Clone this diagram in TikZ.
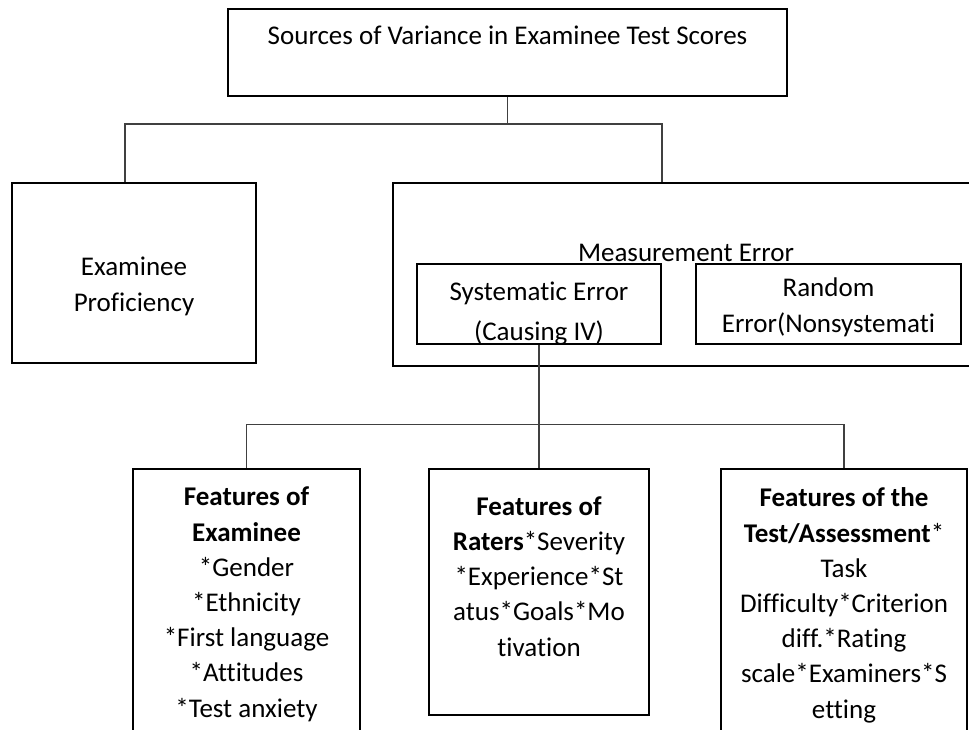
\documentclass[tikz,border=0pt]{standalone}
\usepackage{fontspec}
\setmainfont{Carlito}[Ligatures=NoCommon]
\usetikzlibrary{positioning,calc}
\tikzset{
  box/.style={rectangle,draw,line width=2.2pt,inner sep=0pt},
  txt/.style={align=center,anchor=base,inner sep=0pt,font=\fontsize{27}{35.2}\selectfont},
  link/.style={draw=black!75,line width=1.2pt}
}
\begin{document}
\begin{tikzpicture}[x=1pt,y=-1pt]
    \clip (0, 0) rectangle (969, 730);
    \node at (507.5, 52.5) [box, minimum width=559pt, minimum height=87pt] (src) {};
    \node at (507.5, 45) [txt] (srct) {Sources of Variance in Examinee Test Scores};
    \node at (134, 273) [box, minimum width=244pt, minimum height=180pt] (prof) {};
    \node at (134, 311) [txt] (proft) {Examinee\\Proficiency};
    \node at (686, 274.5) [box, minimum width=586pt, minimum height=183pt] (meas) {};
    \node at (686, 261) [txt] (meast) {Measurement Error};
    \node at (539, 304) [box, minimum width=244pt, minimum height=80pt] (sys) {};
    \begin{scope}
        \clip ([shift={(1.1pt,-1.1pt)}]sys.north west) rectangle ([shift={(-1.1pt,1.1pt)}]sys.south east);
        \node at (539, 340) [txt] (syst) {Systematic Error\\[4.5pt](Causing IV)};
    \end{scope}
    \node at (828.5, 304) [box, minimum width=265pt, minimum height=80pt] (rnd) {};
    \node at (828.5, 332) [txt] (rndt) {Random\\Error(Nonsystemati};

    \node at (246.5, 607) [box, minimum width=227pt, minimum height=276pt] (exa) {};
    \node at (246.5, 717) [txt] (exat) {\textbf{Features of}\\\textbf{Examinee}\\*Gender\\*Ethnicity\\*First language\\*Attitudes\\*Test anxiety};
    \node at (539, 592) [box, minimum width=220pt, minimum height=246pt] (rat) {};
    \node at (539, 656) [txt] (ratt) {\textbf{Features of}\\\textbf{Raters}*Severity\\*Experience*St\\atus*Goals*Mo\\tivation};
    \node at (844, 607) [box, minimum width=246pt, minimum height=276pt] (tst) {};
    \node at (844, 718) [txt] (tstt) {\textbf{Features of the}\\\textbf{Test/Assessment}*\\Task\\Difficulty*Criterion\\diff.*Rating\\scale*Examiners*S\\etting};

    \draw[link] (src.south) -- ++(0, 27) coordinate (j1);
    \draw[link] (j1) -| ([xshift=-9pt]prof.north);
    \draw[link] (j1) -| ([xshift=-24pt]meas.north);
    \draw[link] (sys.south) -- ++(0, 79) coordinate (j2);
    \draw[link] (j2) -| (exa.north);
    \draw[link] (j2) -- (rat.north);
    \draw[link] (j2) -| (tst.north);
\end{tikzpicture}
\end{document}
